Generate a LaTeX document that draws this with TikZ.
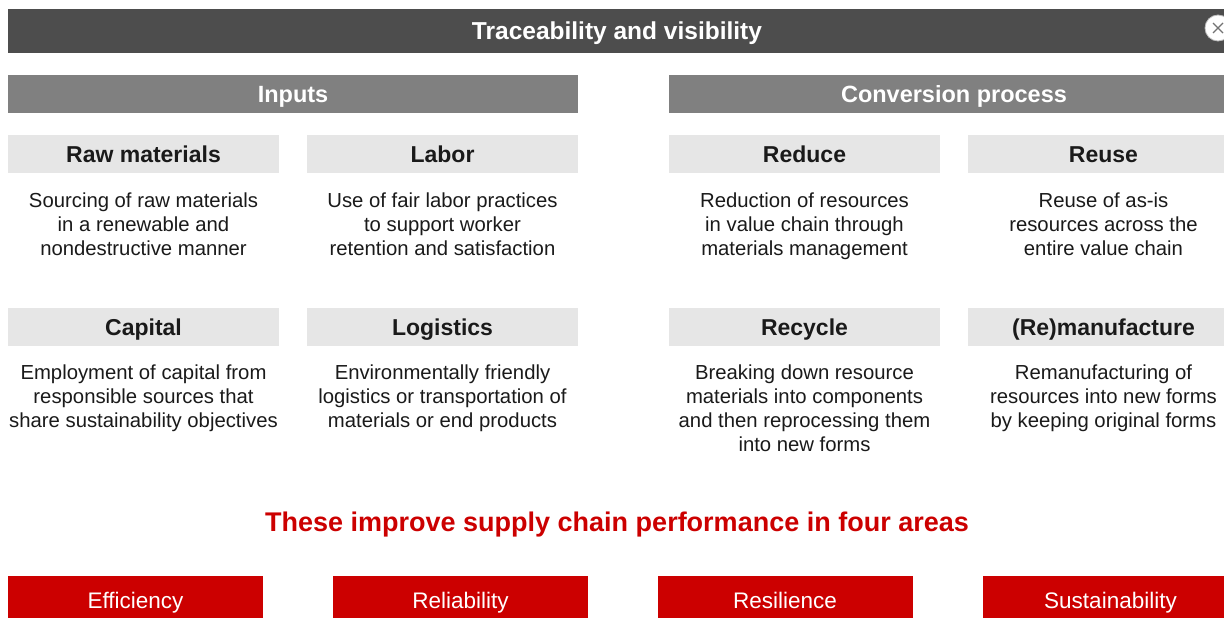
\documentclass[tikz,border=0pt]{standalone}
\usepackage{fontspec}
\setmainfont{Liberation Sans}
\definecolor{topgray}{HTML}{4D4D4D}
\definecolor{midgray}{HTML}{808080}
\definecolor{lightbox}{HTML}{E6E6E6}
\definecolor{redc}{HTML}{CC0000}
\definecolor{txt}{HTML}{1A1A1A}
\tikzset{
  topbar/.style={fill=topgray, text=white, inner sep=0pt, minimum height=44pt,
    text height=22.5pt, text depth=5pt,
    font=\bfseries\fontsize{24.5}{28}\selectfont},
  secbar/.style={fill=midgray, text=white, inner sep=0pt, minimum width=570pt, minimum height=38pt,
    text height=21.8pt, text depth=5pt,
    font=\bfseries\fontsize{23.5}{26}\selectfont},
  subbox/.style={fill=lightbox, text=txt, inner sep=0pt, minimum width=271pt, minimum height=38pt,
    text height=21.5pt, text depth=5pt,
    font=\bfseries\fontsize{23}{26}\selectfont},
  desc/.style={anchor=north, text=txt, align=center, inner sep=0pt,
    font=\fontsize{20.3}{24}\selectfont},
  redbox/.style={fill=redc, text=white, inner sep=0pt, minimum width=255pt, minimum height=48pt,
    text height=21.1pt, text depth=5pt,
    font=\fontsize{22.5}{26}\selectfont},
  redhead/.style={text=redc, inner sep=0pt, font=\bfseries\fontsize{27}{30}\selectfont},
  closebtn/.style={circle, fill=white, draw=black!25, line width=0.8pt, minimum size=26pt, inner sep=0pt},
  closex/.style={draw=black!55, line width=1.2pt}
}
\begin{document}
\begin{tikzpicture}[x=1pt,y=-1pt]
\clip (0,0) rectangle (1224,618);
\fill[white] (0,0) rectangle (1224,618);

\node[topbar, minimum width=1218pt] (top) at (617,31) {Traceability and visibility};
\node[closebtn] (close) at (1218,28) {};
\draw[closex] ([shift={(-5pt,-5pt)}]close.center) -- ([shift={(5pt,5pt)}]close.center);
\draw[closex] ([shift={(-5pt,5pt)}]close.center) -- ([shift={(5pt,-5pt)}]close.center);

\node[secbar] (inputs) at (293,94) {Inputs};
\node[secbar] (conv) at (954,94) {Conversion process};

\node[subbox] (raw) at (143.5,154) {Raw materials};
\node[subbox] (labor) at (442.5,154) {Labor};
\node[subbox] (reduce) at (804.5,154) {Reduce};
\node[subbox] (reuse) at (1103.5,154) {Reuse};

\node[desc] (rawd) at (143.5,193) {Sourcing of raw materials\\in a renewable and\\nondestructive manner};
\node[desc] (labord) at (442.5,193) {Use of fair labor practices\\to support worker\\retention and satisfaction};
\node[desc] (reduced) at (804.5,193) {Reduction of resources\\in value chain through\\materials management};
\node[desc] (reused) at (1103.5,193) {Reuse of as-is\\resources across the\\entire value chain};

\node[subbox] (capital) at (143.5,327) {Capital};
\node[subbox] (logistics) at (442.5,327) {Logistics};
\node[subbox] (recycle) at (804.5,327) {Recycle};
\node[subbox] (reman) at (1103.5,327) {(Re)manufacture};

\node[desc] (capitald) at (143.5,365) {Employment of capital from\\responsible sources that\\share sustainability objectives};
\node[desc] (logisticsd) at (442.5,365) {Environmentally friendly\\logistics or transportation of\\materials or end products};
\node[desc] (recycled) at (804.5,365) {Breaking down resource\\materials into components\\and then reprocessing them\\into new forms};
\node[desc] (remand) at (1103.5,365) {Remanufacturing of\\resources into new forms\\by keeping original forms};

\node[redhead] (head) at (617,525) {These improve supply chain performance in four areas};

\node[redbox] (eff) at (135.5,600) {Efficiency};
\node[redbox] (rel) at (460.5,600) {Reliability};
\node[redbox] (res) at (785,600) {Resilience};
\node[redbox] (sus) at (1110.5,600) {Sustainability};
\end{tikzpicture}
\end{document}
